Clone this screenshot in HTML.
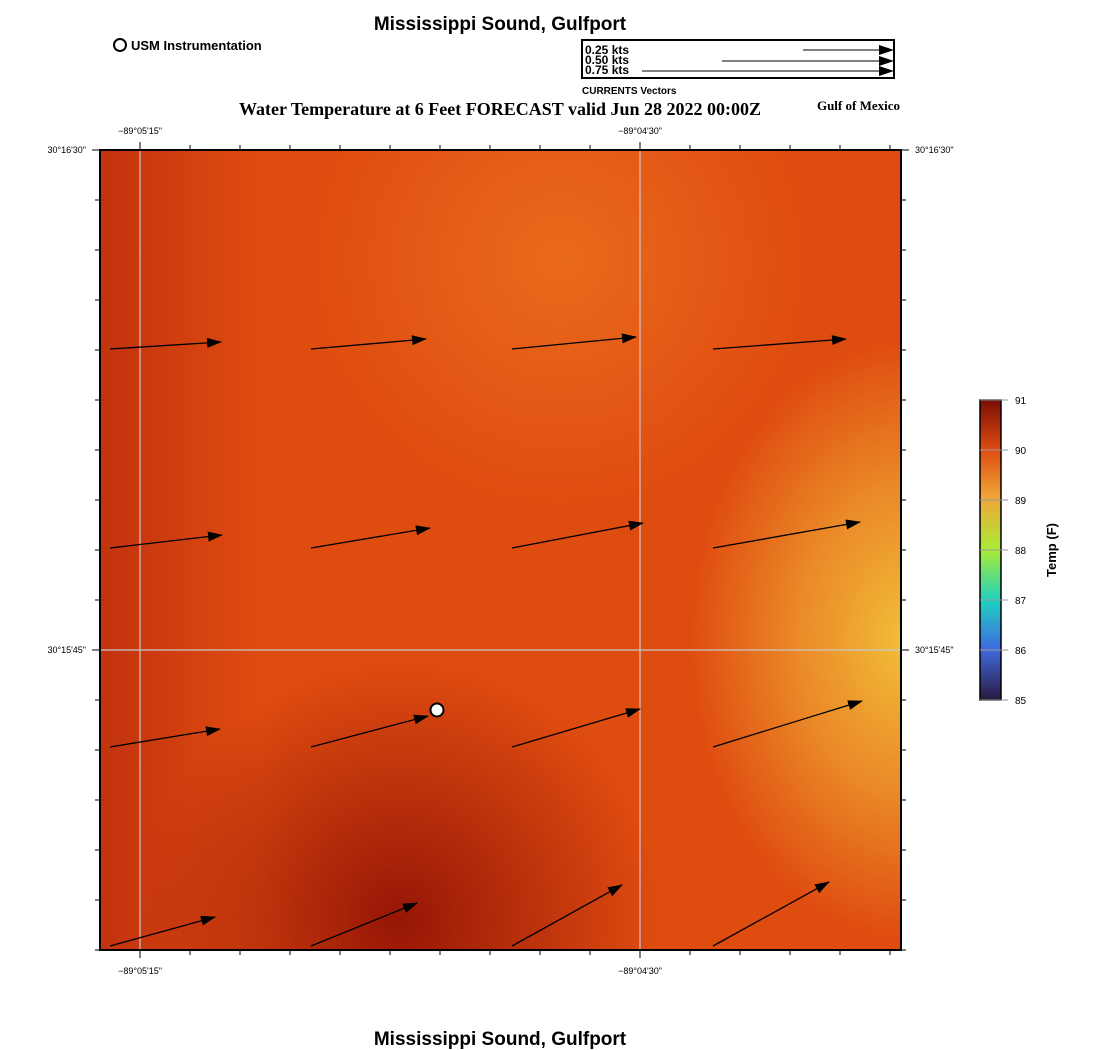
<!DOCTYPE html>
<html><head><meta charset="utf-8"><style>
body{margin:0;background:#fff;width:1100px;height:1050px;overflow:hidden;font-family:"Liberation Sans",sans-serif}
svg{display:block}
</style></head><body>
<svg width="1100" height="1050" xmlns="http://www.w3.org/2000/svg">
<defs>
<radialGradient id="g1" cx="400" cy="920" r="260" gradientUnits="userSpaceOnUse"><stop offset="0" stop-color="#961606" stop-opacity="1"/><stop offset="1" stop-color="#961606" stop-opacity="0"/></radialGradient>
<radialGradient id="g2" cx="0" cy="0" r="1" gradientUnits="userSpaceOnUse" gradientTransform="translate(910,640) scale(220,300)"><stop offset="0" stop-color="#f2c23a"/><stop offset="0.5" stop-color="#eea030" stop-opacity="0.75"/><stop offset="1" stop-color="#eea030" stop-opacity="0"/></radialGradient>
<radialGradient id="g3" cx="560" cy="260" r="250" gradientUnits="userSpaceOnUse"><stop offset="0" stop-color="#ea6a1c"/><stop offset="1" stop-color="#ea6a1c" stop-opacity="0"/></radialGradient>
<linearGradient id="g4" x1="100" x2="260" y1="0" y2="0" gradientUnits="userSpaceOnUse"><stop offset="0" stop-color="#c2320e"/><stop offset="1" stop-color="#c2320e" stop-opacity="0"/></linearGradient>
<linearGradient id="cb" x1="0" y1="1" x2="0" y2="0"><stop offset="0" stop-color="#2a1a40"/><stop offset="0.17" stop-color="#3f6ae0"/><stop offset="0.33" stop-color="#1ed0c0"/><stop offset="0.5" stop-color="#a8ec36"/><stop offset="0.67" stop-color="#f0a838"/><stop offset="0.83" stop-color="#e04e12"/><stop offset="1" stop-color="#7a0e06"/></linearGradient>
<marker id="ah" markerWidth="15" markerHeight="10" refX="14" refY="5" orient="auto" markerUnits="userSpaceOnUse"><path d="M0,0 L15,5 L0,10 z" fill="#000"/></marker>
</defs>
<text x="500" y="30" text-anchor="middle" font-size="19" font-weight="bold">Mississippi Sound, Gulfport</text>
<circle cx="120" cy="45" r="6" fill="#fff" stroke="#000" stroke-width="2"/>
<text x="131" y="50" font-size="13" font-weight="bold">USM Instrumentation</text>
<g>
<rect x="582" y="40" width="312" height="38" fill="#fff" stroke="#000" stroke-width="2"/>
<text x="585" y="54" font-size="12" font-weight="bold">0.25 kts</text>
<text x="585" y="64" font-size="12" font-weight="bold">0.50 kts</text>
<text x="585" y="74" font-size="12" font-weight="bold">0.75 kts</text>
<line x1="803" y1="50" x2="893" y2="50" stroke="#000" marker-end="url(#ah)"/>
<line x1="722" y1="61" x2="893" y2="61" stroke="#000" marker-end="url(#ah)"/>
<line x1="642" y1="71" x2="893" y2="71" stroke="#000" marker-end="url(#ah)"/>
</g>
<text x="582" y="94" font-size="10" font-weight="bold">CURRENTS Vectors</text>
<text x="500" y="115" text-anchor="middle" font-size="18" font-weight="bold" font-family="Liberation Serif,serif">Water Temperature at 6 Feet FORECAST valid Jun 28 2022 00:00Z</text>
<text x="900" y="110" text-anchor="end" font-size="13" font-weight="bold" font-family="Liberation Serif,serif">Gulf of Mexico</text>
<g>
<rect x="100" y="150" width="801" height="800" fill="#df4c10"/>
<rect x="100" y="150" width="801" height="800" fill="url(#g3)"/>
<rect x="100" y="150" width="801" height="800" fill="url(#g4)"/>
<rect x="100" y="150" width="801" height="800" fill="url(#g1)"/>
<rect x="100" y="150" width="801" height="800" fill="url(#g2)"/>
</g>
<g stroke="#c8c8c8" stroke-width="1.2">
<line x1="140" y1="150" x2="140" y2="950"/><line x1="640" y1="150" x2="640" y2="950"/><line x1="100" y1="650" x2="901" y2="650"/>
</g>
<g id="vectors"></g>
<circle cx="437" cy="710" r="6.5" fill="#fff" stroke="#000" stroke-width="2"/>
<rect x="100" y="150" width="801" height="800" fill="none" stroke="#000" stroke-width="2"/>
<g id="ticks" stroke="#000" stroke-width="1"></g>
<g font-size="9">
<text x="140" y="134" text-anchor="middle">−89°05'15"</text><text x="640" y="134" text-anchor="middle">−89°04'30"</text>
<text x="140" y="974" text-anchor="middle">−89°05'15"</text><text x="640" y="974" text-anchor="middle">−89°04'30"</text>
<text x="86" y="153" text-anchor="end">30°16'30"</text><text x="86" y="653" text-anchor="end">30°15'45"</text>
<text x="915" y="153">30°16'30"</text><text x="915" y="653">30°15'45"</text>
</g>
<g>
<rect x="980" y="400" width="21" height="300" fill="url(#cb)" stroke="#000" stroke-width="1.5"/>
<g id="cbt"></g>
<text transform="translate(1056,550) rotate(-90)" text-anchor="middle" font-size="13" font-weight="bold">Temp (F)</text>
</g>
<text x="500" y="1045" text-anchor="middle" font-size="19" font-weight="bold">Mississippi Sound, Gulfport</text>
</svg>
<script>
const colX=[0,1,2,3];
const rowY=[0,1,2,3];
const vecU=[[111,115,124,133],[112,119,131,147],[110,117,128,149],[105,106,110,116]];
const vecV=[[7,10,12,10],[13,20,25,26],[18,31,38,46],[29,43,61,64]];
const cbTicks=[85,86,87,88,89,90,91];
const NS="http://www.w3.org/2000/svg";
const xPos=i=>110+i*201, yPos=j=>349+j*199;
const vg=document.getElementById('vectors');
rowY.forEach(j=>colX.forEach(i=>{
 const l=document.createElementNS(NS,'line');
 l.setAttribute('x1',xPos(i));l.setAttribute('y1',yPos(j));
 l.setAttribute('x2',xPos(i)+vecU[j][i]);l.setAttribute('y2',yPos(j)-vecV[j][i]);
 l.setAttribute('stroke','#000');l.setAttribute('stroke-width','1.3');l.setAttribute('marker-end','url(#ah)');
 
 
 vg.appendChild(l);
}));
const tg=document.getElementById('ticks');
function ln(a,b,c,d){const l=document.createElementNS(NS,'line');l.setAttribute('x1',a);l.setAttribute('y1',b);l.setAttribute('x2',c);l.setAttribute('y2',d);tg.appendChild(l);}
for(let x=140;x<=890;x+=50){const L=(x==140||x==640)?8:5;ln(x,150,x,150-L);ln(x,950,x,950+L);}
for(let y=150;y<=950;y+=50){const L=(y==150||y==650)?8:5;ln(100,y,100-L,y);ln(901,y,901+L,y);}
const cg=document.getElementById('cbt');
cbTicks.forEach(t=>{
 const y=700-(t-85)*50;
 const l=document.createElementNS(NS,'line');l.setAttribute('x1',980);l.setAttribute('x2',1008);l.setAttribute('y1',y);l.setAttribute('y2',y);l.setAttribute('stroke','#999');
 cg.appendChild(l);
 const tx=document.createElementNS(NS,'text');tx.setAttribute('x',1015);tx.setAttribute('y',y+4);tx.setAttribute('font-size','10');tx.textContent=t;
 
 
 cg.appendChild(tx);
});
</script>
</body></html>
